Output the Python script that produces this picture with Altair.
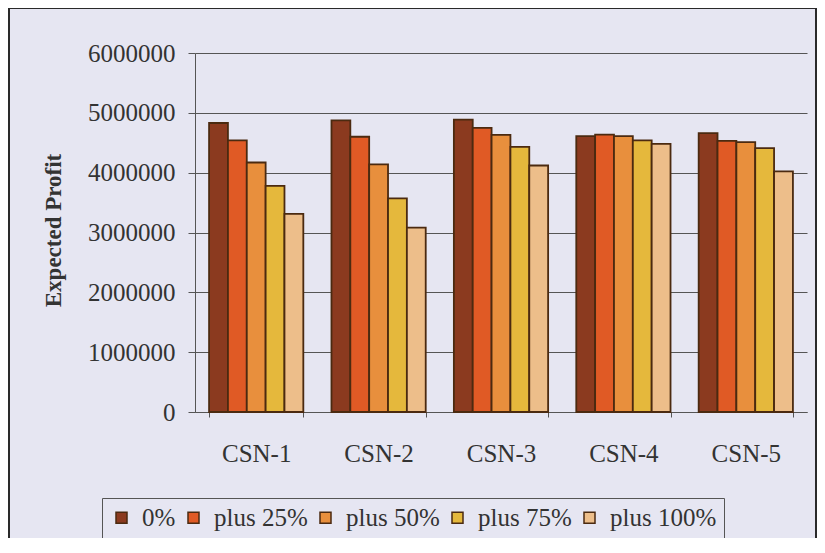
import altair as alt
import pandas as pd

networks = ["CSN-1", "CSN-2", "CSN-3", "CSN-4", "CSN-5"]
levels = ["0%", "plus 25%", "plus 50%", "plus 75%", "plus 100%"]
profit_0 = [4830000, 4875000, 4885000, 4610000, 4660000]
profit_25 = [4540000, 4600000, 4750000, 4635000, 4530000]
profit_50 = [4170000, 4140000, 4630000, 4610000, 4510000]
profit_75 = [3780000, 3570000, 4430000, 4540000, 4410000]
profit_100 = [3310000, 3080000, 4120000, 4480000, 4020000]
y_ticks = [0, 1000000, 2000000, 3000000, 4000000, 5000000, 6000000]
colors = ["#8B3A1F", "#E05A25", "#E88F3D", "#E5B83C", "#EDBE8A"]

series = [profit_0, profit_25, profit_50, profit_75, profit_100]
rows = []
for lvl, vals in zip(levels, series):
    for net, v in zip(networks, vals):
        rows.append({"network": net, "level": lvl, "profit": v})
df = pd.DataFrame(rows)

FONT = "Liberation Serif"
BG = "#E6E6F2"

bars = alt.Chart(df).mark_bar(stroke="#4B2A10", strokeWidth=1.8).encode(
    x=alt.X("network:N", sort=networks,
            scale=alt.Scale(paddingInner=0.23, paddingOuter=0.115),
            axis=alt.Axis(title=None, labelAngle=0, tickBand="extent",
                          tickSize=5, labelPadding=24, domainColor="#555555",
                          tickColor="#555555", grid=False)),
    xOffset=alt.XOffset("level:N", sort=levels,
                        scale=alt.Scale(paddingInner=0, paddingOuter=0)),
    y=alt.Y("profit:Q", scale=alt.Scale(domain=[0, 6000000], nice=False),
            axis=alt.Axis(values=y_ticks, format="d", title="Expected Profit",
                          tickSize=7, labelPadding=13, grid=True,
                          gridColor="#555555", domainColor="#555555",
                          tickColor="#555555",
                          titleFont=FONT, titleFontSize=23, titleFontWeight="bold",
                          titleColor="#333333", titleAngle=270,
                          titleBaseline="middle", titleAlign="center",
                          titleX=-142, titleY=177)),
    color=alt.Color("level:N", sort=levels,
                    scale=alt.Scale(domain=levels, range=colors),
                    legend=alt.Legend(title=None, orient="none", legendX=-93, legendY=445,
                                      direction="horizontal", columns=5,
                                      symbolType="square", symbolSize=121,
                                      symbolStrokeColor="#4B2A10", symbolStrokeWidth=1.5,
                                      labelFont=FONT, labelFontSize=25, labelColor="#333333",
                                      labelOffset=8, columnPadding=5,
                                      strokeColor="#555555", padding=7,
                                      fillColor=BG)),
)

frame_df = pd.DataFrame({"k": [0]})
left = alt.Chart(frame_df).mark_rule(color="#2a2a2a", strokeWidth=2).encode(
    x=alt.value(-186), y=alt.value(-45), y2=alt.value(490))
top = alt.Chart(frame_df).mark_rule(color="#2a2a2a", strokeWidth=2).encode(
    x=alt.value(-186), x2=alt.value(621), y=alt.value(-45))
right = alt.Chart(frame_df).mark_rule(color="#2a2a2a", strokeWidth=2).encode(
    x=alt.value(621), y=alt.value(-45), y2=alt.value(490))

chart = alt.layer(bars, left, top, right).properties(
    width=612, height=359,
    autosize=alt.AutoSizeParams(type="none"),
    padding={"left": 187, "top": 45, "right": 10, "bottom": 126},
    background=BG,
).configure_view(strokeWidth=0).configure_axis(
    labelFont=FONT, labelFontSize=25, labelColor="#333333",
)

chart.save("out.html", embed_options={"renderer": "svg", "actions": False})
